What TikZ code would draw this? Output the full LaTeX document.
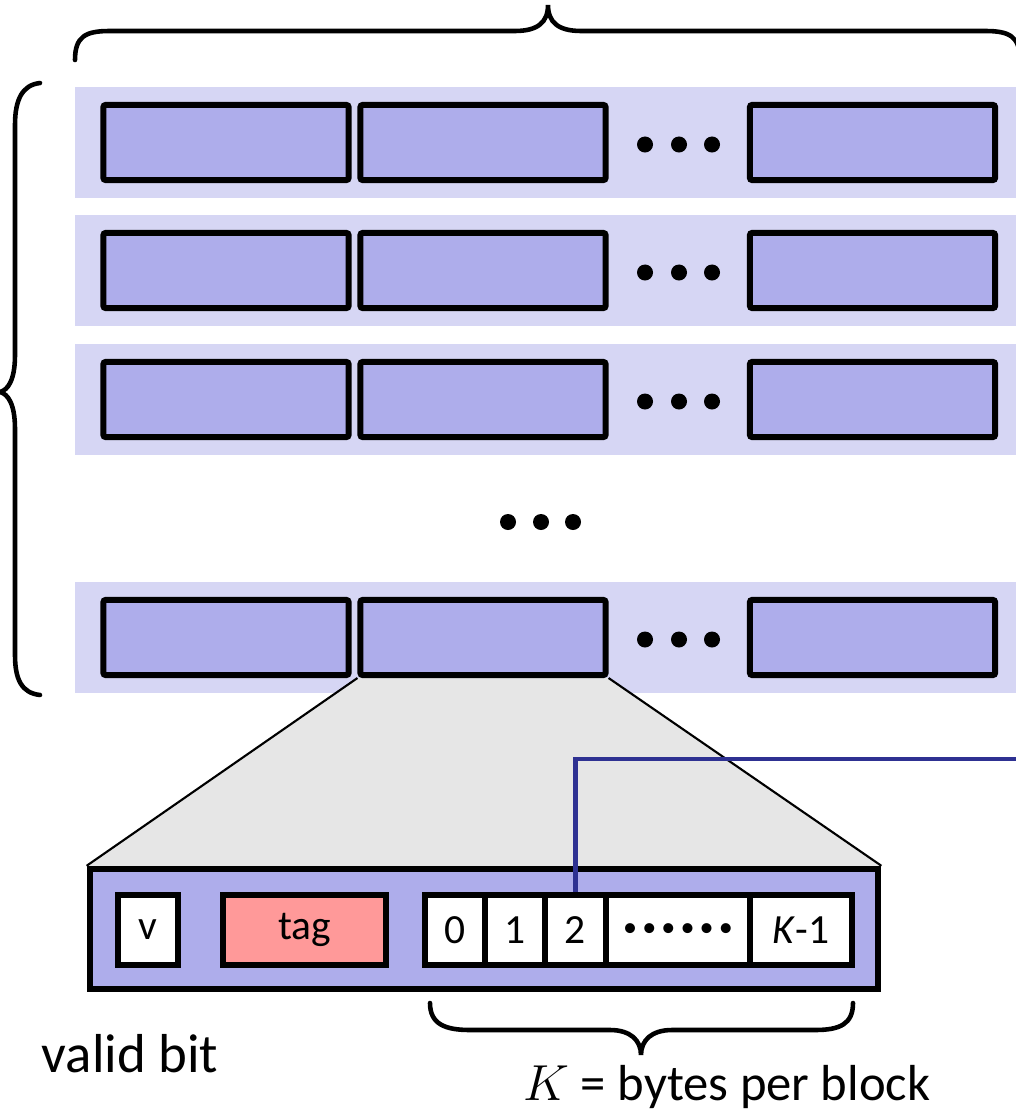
\documentclass[tikz,border=0pt]{standalone}
\usepackage{fontspec}
\setmainfont{Carlito}
\usetikzlibrary{backgrounds}
\definecolor{bandc}{HTML}{D6D6F4}
\definecolor{boxfill}{HTML}{AEADEB}
\definecolor{tagfill}{HTML}{FF9999}
\definecolor{trapc}{HTML}{E6E6E6}
\definecolor{wirec}{HTML}{2E3192}
\newcommand{\mybul}{{\fontsize{8}{8}\selectfont\textbullet}}
\begin{document}
\begin{tikzpicture}[x=0.01cm,y=-0.01cm,
 rowbox/.style={draw=black, line width=1.7pt, fill=boxfill, rounded corners=0.6pt, minimum width=2.45cm, minimum height=0.75cm, inner sep=0pt},
 cell/.style={draw=black, line width=1.7pt, fill=white, minimum height=0.70cm, inner sep=0pt, font=\fontsize{11.8}{13}\selectfont},
 bigdot/.style={circle, fill=black, minimum size=0.16cm, inner sep=0pt},
 bracel/.style={line width=1.3pt, line cap=round},
 lbl/.style={inner sep=0pt}]
\useasboundingbox (0,0) rectangle (1015,1115);

% rows
\foreach \r/\y in {1/142.5,2/270.5,3/399.5,4/637.5}{
  \node[rowbox] (b\r-1) at (226,\y) {};
  \node[rowbox] (b\r-2) at (483,\y) {};
  \node[rowbox] (b\r-3) at (872.5,\y) {};
  \node[bigdot] (d\r-1) at (645,\y+2) {};
  \node[bigdot] (d\r-2) at (679,\y+2) {};
  \node[bigdot] (d\r-3) at (712,\y+2) {};
}
\node[bigdot] (m1) at (508,522) {};
\node[bigdot] (m2) at (541,522) {};
\node[bigdot] (m3) at (573,522) {};

% lower block
\node[draw=black, line width=1.8pt, fill=boxfill, minimum width=7.88cm, minimum height=1.20cm, inner sep=0pt] (blk) at (484,929) {};
\node[cell, minimum width=0.60cm] (cv) at (148,930) {v};
\node[cell, fill=tagfill, minimum width=1.63cm] (ctag) at (304.5,930) {tag};
\node[cell, minimum width=0.60cm] (c0) at (455,930) {0};
\node[cell, minimum width=0.60cm] (c1) at (515,930) {1};
\node[cell, minimum width=0.61cm] (c2) at (575.5,930) {2};
\node[cell, minimum width=1.44cm] (cd) at (678,930) {\mybul\kern1.45pt\mybul\kern1.45pt\mybul\kern1.45pt\mybul\kern1.45pt\mybul\kern1.45pt\mybul};
\node[cell, minimum width=1.02cm] (ck) at (801,930) {\textit{K}-1};

% background: bands and zoom trapezoid
\begin{scope}[on background layer]
  \foreach \y in {142.5,270.5,399.5,637.5}{
    \fill[bandc] (75,\y-56) rectangle (1020,\y+55);
  }
  \fill[trapc] (b4-2.south west) -- (b4-2.south east) -- (blk.north east) -- (blk.north west) -- cycle;
  \draw[line width=0.6pt] (b4-2.south west) -- (blk.north west);
  \draw[line width=0.6pt] (b4-2.south east) -- (blk.north east);
\end{scope}

% blue wire
\coordinate (wend) at (1020,759);
\draw[wirec, line width=1.4pt] (c2.north) -- (c2.north |- wend) -- (wend);

% braces
\draw[bracel] (75,60) .. controls (75,36) and (86,31) .. (110,31) -- (515,31)
  .. controls (538,31) and (548,22) .. (548,5)
  .. controls (548,22) and (558,31) .. (581,31) -- (985,31)
  .. controls (1009,31) and (1020,36) .. (1020,60);
\draw[bracel] (40,83) .. controls (22,85) and (15,100) .. (15,125) -- (15,355)
  .. controls (15,380) and (8,390) .. (0,392)
  .. controls (8,394) and (15,404) .. (15,429) -- (15,655)
  .. controls (15,680) and (22,693) .. (40,695);
\draw[bracel] (430,1003) .. controls (430,1024) and (445,1030) .. (470,1030) -- (610,1030)
  .. controls (630,1030) and (641,1040) .. (641,1055)
  .. controls (641,1040) and (652,1030) .. (672,1030) -- (815,1030)
  .. controls (840,1030) and (853,1024) .. (853,1003);

% labels
\node[lbl, anchor=base west, font=\fontsize{15.6}{18}\selectfont] (vb) at (41,1072) {valid bit};
\node[lbl, anchor=base, font=\fontsize{14.4}{17}\selectfont] (kb) at (727,1100) {$K$ = bytes per block};
\end{tikzpicture}
\end{document}
